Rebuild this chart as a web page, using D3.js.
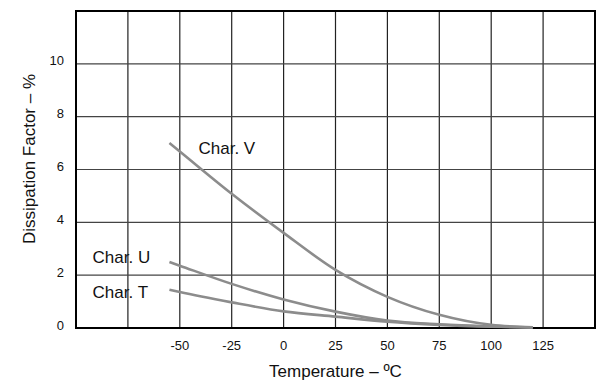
<!DOCTYPE html>
<html>
<head>
<meta charset="utf-8">
<script src="https://cdn.jsdelivr.net/npm/d3@7"></script>
<style>
  body { margin: 0; background: #fff; }
  text { font-family: "Liberation Sans", Arial, Helvetica, sans-serif; fill: #111; }
</style>
</head>
<body>
<div class="container"></div>
<script>
const temps = [-55, -50, -25, 0, 25, 50, 75, 100, 120];
// dissipation factor, %
const charV = [7.0, 6.68, 5.08, 3.6, 2.2, 1.18, 0.5, 0.12, 0.03];
const charU = [2.5, 2.36, 1.67, 1.08, 0.62, 0.28, 0.14, 0.06, 0.02];
const charT = [1.45, 1.36, 0.97, 0.63, 0.43, 0.24, 0.12, 0.05, 0.02];

const seriesNames = ["Char. V", "Char. U", "Char. T"];
// label anchor (left, baseline) in data units
const labelTemp = [-41, -92, -92];
const labelDF = [6.6, 2.45, 1.12];

const xTicks = [-50, -25, 0, 25, 50, 75, 100, 125];
const xGrid = [-75, -50, -25, 0, 25, 50, 75, 100, 125];
const yTicks = [0, 2, 4, 6, 8, 10];
const yGrid = [2, 4, 6, 8, 10];

const width = 597, height = 381;

let svg = d3.select(".container").append("svg")
  .attr("width", width)
  .attr("height", height);

let x = d3.scaleLinear().domain([-100, 150]).range([76, 595]);
let y = d3.scaleLinear().domain([0, 12]).range([328, 11]);

// grid
svg.append("g").selectAll("line")
  .data(xGrid)
  .enter()
  .append("line")
  .attr("x1", d => x(d)).attr("x2", d => x(d))
  .attr("y1", y(12)).attr("y2", y(0))
  .attr("stroke", "#222")
  .attr("stroke-width", 1.2);

svg.append("g").selectAll("line")
  .data(yGrid)
  .enter()
  .append("line")
  .attr("x1", x(-100)).attr("x2", x(150))
  .attr("y1", d => y(d)).attr("y2", d => y(d))
  .attr("stroke", "#444")
  .attr("stroke-width", 1.2);

// frame
svg.append("rect")
  .attr("x", x(-100)).attr("y", y(12))
  .attr("width", x(150) - x(-100))
  .attr("height", y(0) - y(12))
  .attr("fill", "none")
  .attr("stroke", "#000")
  .attr("stroke-width", 2);

// curves
let line = d3.line()
  .x((d, i) => x(temps[i]))
  .y(d => y(d))
  .curve(d3.curveMonotoneX);

[charV, charU, charT].forEach(vals => {
  svg.append("path")
    .attr("d", line(vals))
    .attr("fill", "none")
    .attr("stroke", "#8c8c8c")
    .attr("stroke-width", 2.6);
});

seriesNames.forEach((name, i) => {
  svg.append("text")
    .attr("x", x(labelTemp[i]))
    .attr("y", y(labelDF[i]))
    .style("font-size", "17px")
    .text(name);
});

// tick labels
svg.append("g").selectAll("text")
  .data(xTicks)
  .enter()
  .append("text")
  .attr("x", d => x(d))
  .attr("y", 350)
  .attr("text-anchor", "middle")
  .style("font-size", "13px")
  .text(d => d);

svg.append("g").selectAll("text")
  .data(yTicks)
  .enter()
  .append("text")
  .attr("x", 64)
  .attr("y", d => y(d) + 1.5)
  .attr("text-anchor", "end")
  .style("font-size", "13px")
  .text(d => d);

// axis titles
svg.append("text")
  .attr("x", x(25))
  .attr("y", 377)
  .attr("text-anchor", "middle")
  .style("font-size", "17px")
  .text("Temperature – ºC");

svg.append("text")
  .attr("transform", "translate(35,159) rotate(-90)")
  .attr("text-anchor", "middle")
  .style("font-size", "17px")
  .text("Dissipation Factor – %");
</script>
</body>
</html>
